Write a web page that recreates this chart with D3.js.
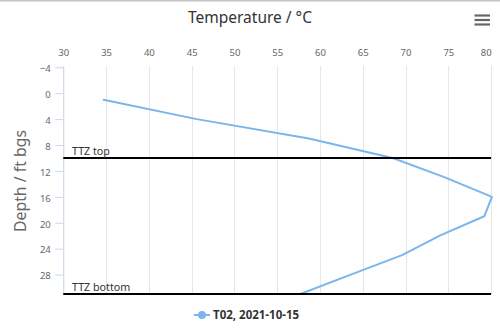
<!DOCTYPE html>
<html>
<head>
<meta charset="utf-8">
<script src="https://cdn.jsdelivr.net/npm/d3@7"></script>
<style>
  html, body { margin: 0; padding: 0; background: #fff; }
  svg { display: block; font-family: "Noto Sans", "DejaVu Sans", sans-serif; }
</style>
</head>
<body>
<svg id="chart" width="500" height="335"></svg>
<script>
// ---- data ----
const depth = [1, 4, 7, 10, 13, 16, 19, 22, 25, 28, 31];
const temperature = [34.7, 45.6, 58.7, 68.5, 74.6, 80.1, 79.2, 74.0, 69.6, 63.6, 57.7];
const xTicks = [30, 35, 40, 45, 50, 55, 60, 65, 70, 75, 80];
const yTicks = [-4, 0, 4, 8, 12, 16, 20, 24, 28];
const ttzLabels = ["TTZ top", "TTZ bottom"];
const ttzDepths = [10, 31];
const seriesName = "T02, 2021-10-15";
const xTitle = "Temperature / \u00B0C";
const yTitle = "Depth / ft bgs";

// ---- layout ----
const W = 500, H = 335;
const pL = 63.3, pR = 491.1, pT = 66, pB = 294;
const svg = d3.select("#chart");

svg.append("rect").attr("x", 0).attr("y", 0).attr("width", W).attr("height", 1.5).attr("fill", "#c4c4c4");

const x = d3.scaleLinear().domain([30, 80]).range([pL, pR]);
const y = d3.scaleLinear().domain([-4.2, 31]).range([pT, pB]);

// gridlines
svg.append("g").selectAll("line").data(xTicks).join("line")
  .attr("x1", d => Math.round(x(d)) + 0.5).attr("x2", d => Math.round(x(d)) + 0.5)
  .attr("y1", pT).attr("y2", pB)
  .attr("stroke", "#e6e6e6").attr("stroke-width", 1);

// top axis (temperature)
const gx = svg.append("g").attr("transform", `translate(0,${pT})`)
  .call(d3.axisTop(x).tickValues(xTicks).tickSize(0).tickPadding(10));
gx.select(".domain").remove();
gx.selectAll("text").attr("fill", "#666").attr("font-size", "9.5px")
  .attr("font-family", "Noto Sans, sans-serif").attr("dy", "0");
gx.selectAll(".tick").filter(d => d === 80).select("text").attr("x", -5.4);

// left axis (depth)
const gy = svg.append("g").attr("transform", `translate(${pL},0)`)
  .call(d3.axisLeft(y).tickValues(yTicks).tickSize(8).tickSizeOuter(0).tickPadding(4.5));
gy.select(".domain").attr("stroke", "#ccd6eb");
gy.selectAll(".tick line").attr("stroke", "#ccd6eb");
gy.selectAll("text").attr("fill", "#666").attr("font-size", "9.5px")
  .attr("font-family", "Noto Sans, sans-serif").attr("dy", "0.45em");

// titles
svg.append("text").attr("x", 250).attr("y", 22.7).attr("text-anchor", "middle")
  .attr("font-size", "15.5px").attr("fill", "#333").text(xTitle);
svg.append("text").attr("transform", "translate(25.5,181) rotate(-90)").attr("text-anchor", "middle")
  .attr("font-size", "15.8px").attr("fill", "#666").text(yTitle);

// series line
const line = d3.line().x((d, i) => x(temperature[i])).y(d => y(d));
svg.append("path").datum(depth).attr("d", line)
  .attr("fill", "none").attr("stroke", "#7cb5ec").attr("stroke-width", 2)
  .attr("stroke-linejoin", "round").attr("stroke-linecap", "round");

// TTZ plot lines
const ttz = svg.append("g");
ttz.selectAll("line").data(ttzDepths).join("line")
  .attr("x1", pL).attr("x2", pR)
  .attr("y1", d => y(d)).attr("y2", d => y(d))
  .attr("stroke", "#000").attr("stroke-width", 2);
ttz.selectAll("text").data(ttzDepths).join("text")
  .attr("x", 72).attr("y", d => y(d) - 3.3)
  .attr("font-size", "10.7px").attr("fill", "#333")
  .text((d, i) => ttzLabels[i]);

// legend
const lg = svg.append("g");
lg.append("line").attr("x1", 194).attr("x2", 210).attr("y1", 315).attr("y2", 315)
  .attr("stroke", "#7cb5ec").attr("stroke-width", 2);
lg.append("circle").attr("cx", 202).attr("cy", 315).attr("r", 4).attr("fill", "#7cb5ec");
lg.append("text").attr("x", 213).attr("y", 319).attr("font-size", "11.5px")
  .attr("font-weight", "bold").attr("fill", "#333").text(seriesName);

// menu icon
svg.append("g").selectAll("line").data([15.5, 20, 24.5]).join("line")
  .attr("x1", 474.5).attr("x2", 490).attr("y1", d => d).attr("y2", d => d)
  .attr("stroke", "#666").attr("stroke-width", 2.2);
</script>
</body>
</html>
